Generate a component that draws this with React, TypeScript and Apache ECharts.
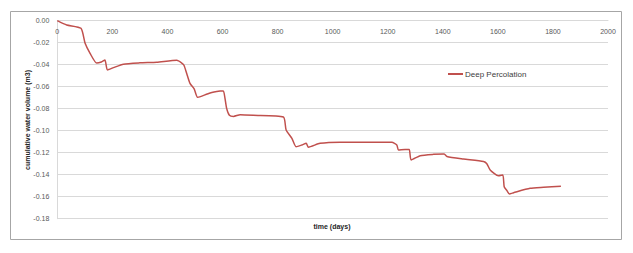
import React, { useEffect, useRef } from "react";
import * as echarts from "echarts";

const timeDays = [0, 34, 86, 101, 119, 143, 160, 173, 182, 204, 240, 300, 361, 434, 452, 460, 470, 482, 497, 509, 520, 555, 591, 603, 609, 615, 625, 640, 664, 712, 821, 831, 852, 867, 888, 904, 912, 954, 1027, 1215, 1233, 1239, 1263, 1278, 1285, 1318, 1366, 1405, 1415, 1475, 1548, 1560, 1572, 1602, 1618, 1623, 1633, 1642, 1657, 1717, 1766, 1829];
const deepPercolation = [0, -0.0039, -0.0069, -0.0206, -0.0297, -0.0385, -0.0375, -0.0357, -0.0448, -0.0427, -0.0395, -0.0383, -0.0377, -0.036, -0.0385, -0.0405, -0.048, -0.057, -0.062, -0.0696, -0.069, -0.0658, -0.064, -0.0638, -0.0706, -0.0797, -0.086, -0.087, -0.0855, -0.086, -0.0876, -0.0994, -0.107, -0.1145, -0.113, -0.1115, -0.115, -0.1115, -0.1104, -0.1106, -0.113, -0.1175, -0.117, -0.117, -0.1266, -0.1227, -0.1215, -0.1212, -0.1234, -0.1257, -0.128, -0.13, -0.1357, -0.141, -0.1403, -0.151, -0.1545, -0.1575, -0.1564, -0.1524, -0.1515, -0.1505];

const seriesName = "Deep Percolation";
const xTitle = "time (days)";
const yTitle = "cumulative water volume (m3)";

export default function App() {
  const ref = useRef<HTMLDivElement>(null);
  useEffect(() => {
    if (!ref.current) return;
    const chart = echarts.init(ref.current, undefined, { renderer: "svg" });
    const font = "Liberation Sans, Arial, sans-serif";
    chart.setOption({
      animation: false,
      backgroundColor: "#ffffff",
      textStyle: { fontFamily: font },
      grid: { left: 57.3, right: 25, top: 20.7, bottom: 34.3, containLabel: false },
      legend: {
        show: true,
        left: 448,
        top: 70,
        padding: 0,
        icon: "rect",
        itemWidth: 15,
        itemHeight: 2,
        itemGap: 2,
        textStyle: { fontSize: 8, color: "#404040", fontFamily: font, padding: [0, 0, 0, -3] },
        data: [seriesName],
      },
      xAxis: {
        type: "value",
        position: "top",
        min: 0,
        max: 2000,
        interval: 200,
        axisLine: { show: true, onZero: false, lineStyle: { color: "#D9D9D9", width: 1 } },
        axisTick: { show: false },
        axisLabel: {
          inside: true,
          fontSize: 7,
          color: "#595959",
          margin: 7,
          fontFamily: font,
          formatter: (v: number) => String(v),
        },
        splitLine: { show: false },
      },
      yAxis: {
        type: "value",
        min: -0.18,
        max: 0,
        interval: 0.02,
        axisLine: { show: true, lineStyle: { color: "#D9D9D9", width: 1 } },
        axisTick: { show: false },
        axisLabel: {
          fontSize: 7,
          color: "#595959",
          margin: 8,
          fontFamily: font,
          formatter: (v: number) => (Math.abs(v) < 1e-9 ? "0.00" : v.toFixed(2)),
        },
        splitLine: { show: true, lineStyle: { color: "#D9D9D9", width: 1 } },
      },
      series: [
        {
          name: seriesName,
          type: "line",
          data: timeDays.map((t, i) => [t, deepPercolation[i]]),
          showSymbol: false,
          symbol: "none",
          smooth: 0.2,
          lineStyle: { color: "#C0504D", width: 1.5 },
          itemStyle: { color: "#C0504D" },
        },
      ],
      graphic: [
        {
          type: "rect",
          shape: { x: 10.5, y: 11.5, width: 611, height: 228 },
          style: { fill: "none", stroke: "#A6A6A6", lineWidth: 1 },
          silent: true,
          z: -1,
        },
        {
          type: "text",
          x: 332,
          y: 226,
          style: {
            text: xTitle,
            font: `bold 7px ${font}`,
            fill: "#262626",
            textAlign: "center",
            textVerticalAlign: "middle",
          },
        },
        {
          type: "text",
          x: 27,
          y: 120,
          rotation: Math.PI / 2,
          style: {
            text: yTitle,
            font: `bold 7px ${font}`,
            fill: "#262626",
            textAlign: "center",
            textVerticalAlign: "middle",
          },
        },
      ],
    });
    return () => chart.dispose();
  }, []);
  return (
    <div
      ref={ref}
      style={{ position: "fixed", left: 0, top: 0, width: 633, height: 253, background: "#fff" }}
    />
  );
}
